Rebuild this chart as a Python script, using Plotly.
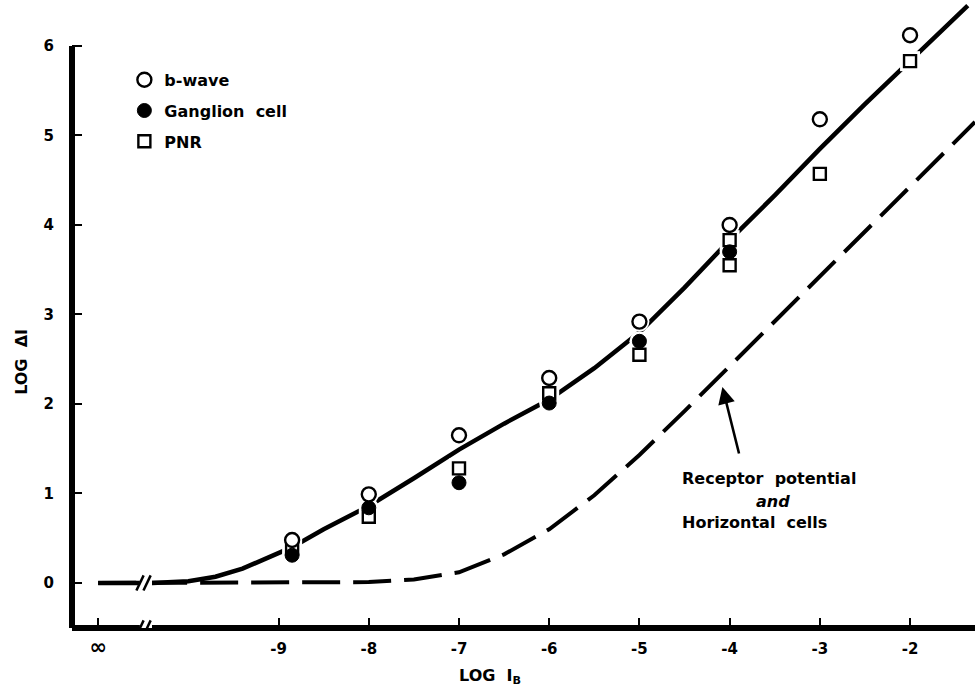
import plotly.graph_objects as go

# ---------------- data ----------------
bwave_x = [-8.85, -8, -7, -6, -5, -4, -3, -2]
bwave_y = [0.48, 0.99, 1.65, 2.29, 2.92, 4.00, 5.18, 6.12]

gang_x = [-8.85, -8, -7, -6, -5, -4]
gang_y = [0.31, 0.84, 1.12, 2.01, 2.70, 3.70]

pnr_x = [-8.85, -8, -7, -6, -5, -4, -4, -3, -2]
pnr_y = [0.39, 0.74, 1.28, 2.12, 2.55, 3.83, 3.55, 4.57, 5.83]

# solid fitted curve (ganglion / b-wave / PNR)
solid_x = [-11.0, -10.4, -10.0, -9.7, -9.4, -9.1, -8.85, -8.5, -8.0, -7.5, -7.0,
           -6.5, -6.0, -5.5, -5.0, -4.5, -4.0, -3.5, -3.0, -2.5, -2.0, -1.36]
solid_y = [0.0, 0.0, 0.02, 0.07, 0.16, 0.29, 0.40, 0.60, 0.86, 1.17, 1.49,
           1.78, 2.05, 2.40, 2.80, 3.30, 3.83, 4.33, 4.85, 5.35, 5.84, 6.45]

# dashed curve (receptor potential and horizontal cells)
dash_x = [-11.0, -10.5, -10.0, -9.5, -9.0, -8.5, -8.0, -7.5, -7.0, -6.5, -6.0,
          -5.5, -5.0, -4.5, -4.0, -3.5, -3.0, -2.5, -2.0, -1.28]
dash_y = [0.0, 0.0, 0.0, 0.0, 0.0, 0.0, 0.01, 0.04, 0.12, 0.32, 0.60,
          0.98, 1.43, 1.92, 2.42, 2.92, 3.42, 3.92, 4.42, 5.15]

x_tickvals = [-11, -9, -8, -7, -6, -5, -4, -3, -2]
x_ticktext = ["<span style='font-size:21px'>∞</span>", "-9", "-8", "-7", "-6", "-5", "-4", "-3", "-2"]
y_tickvals = [0, 1, 2, 3, 4, 5, 6]

X_RANGE = [-11.29, -1.28]
Y_RANGE = [-0.503, 6.513]
BREAK_X = -10.463

FONT = "DejaVu Sans"
BLACK = "black"

fig = go.Figure()

fig.add_trace(go.Scatter(x=dash_x, y=dash_y, mode="lines",
                         line=dict(color=BLACK, width=4, dash="38px,13px"),
                         showlegend=False, hoverinfo="skip"))
fig.add_trace(go.Scatter(x=solid_x, y=solid_y, mode="lines",
                         line=dict(color=BLACK, width=4.5),
                         showlegend=False, hoverinfo="skip"))

# white halos so the curve is interrupted around the symbols
for xs, ys, sym in [(bwave_x, bwave_y, "circle"), (gang_x, gang_y, "circle"),
                    (pnr_x, pnr_y, "square")]:
    fig.add_trace(go.Scatter(x=xs, y=ys, mode="markers",
                             marker=dict(symbol=sym, size=20, color="white", line=dict(width=0)),
                             showlegend=False, hoverinfo="skip"))

fig.add_trace(go.Scatter(x=pnr_x, y=pnr_y, mode="markers", name="PNR",
                         legendrank=3, legendgroup="c",
                         marker=dict(symbol="square", size=12, color="white",
                                     line=dict(color=BLACK, width=2.4))))
fig.add_trace(go.Scatter(x=gang_x, y=gang_y, mode="markers", name="Ganglion  cell",
                         legendrank=2, legendgroup="b",
                         marker=dict(symbol="circle", size=14, color=BLACK,
                                     line=dict(color=BLACK, width=1))))
fig.add_trace(go.Scatter(x=bwave_x, y=bwave_y, mode="markers", name="b-wave",
                         legendrank=1, legendgroup="a",
                         marker=dict(symbol="circle", size=14, color="white",
                                     line=dict(color=BLACK, width=2.4))))

shapes = []
# spines
shapes.append(dict(type="line", xref="paper", yref="paper", x0=0, x1=1, y0=0, y1=0,
                   line=dict(color=BLACK, width=6), layer="above"))
shapes.append(dict(type="line", xref="paper", yref="y", x0=0, x1=0, y0=Y_RANGE[0] - 0.035, y1=6,
                   line=dict(color=BLACK, width=6), layer="above"))
# axis breaks on the zero line and the x axis
for y0, hh in [(0.0, 0.06), (Y_RANGE[0], 0.06)]:
    shapes.append(dict(type="rect", xref="x", yref="y", x0=BREAK_X - 0.075, x1=BREAK_X + 0.06,
                       y0=y0 - hh, y1=y0 + hh, fillcolor="white", line=dict(width=0), layer="above"))
    for dx in (-0.078, 0.0):
        shapes.append(dict(type="line", xref="x", yref="y",
                           x0=BREAK_X + dx - 0.035, x1=BREAK_X + dx + 0.045,
                           y0=y0 - 0.085, y1=y0 + 0.085,
                           line=dict(color=BLACK, width=2.5), layer="above"))

annotations = [
    dict(text="<b>LOG  ΔI</b>", xref="paper", yref="y", x=-0.0554, y=2.47, textangle=-90,
         xanchor="center", yanchor="middle",
         showarrow=False, font=dict(family=FONT, size=16, color=BLACK)),
    dict(text="<b>LOG  I<sub>B</sub></b>", xref="x", yref="paper", x=-6.66, y=-0.078,
         xanchor="center", yanchor="middle",
         showarrow=False, font=dict(family=FONT, size=16, color=BLACK)),
    dict(text="<b>Receptor  potential</b>", xref="x", yref="y", x=-4.55, y=1.17,
         xanchor="left", yanchor="middle", showarrow=False,
         font=dict(family=FONT, size=16, color=BLACK)),
    dict(text="<b><i>and</i></b>", xref="x", yref="y", x=-3.52, y=0.91,
         xanchor="center", yanchor="middle", showarrow=False,
         font=dict(family=FONT, size=16, color=BLACK)),
    dict(text="<b>Horizontal  cells</b>", xref="x", yref="y", x=-4.55, y=0.68,
         xanchor="left", yanchor="middle", showarrow=False,
         font=dict(family=FONT, size=16, color=BLACK)),
    dict(text="", xref="x", yref="y", x=-4.08, y=2.19, ax=17, ay=68,
         showarrow=True, arrowhead=2, arrowsize=1.3, arrowwidth=2.6, arrowcolor=BLACK),
]

fig.update_layout(
    width=975, height=693,
    margin=dict(l=72, r=0, t=0, b=65),
    paper_bgcolor="white", plot_bgcolor="white",
    shapes=shapes, annotations=annotations,
    showlegend=True,
    legend=dict(x=0.058, y=0.9, xanchor="left", yanchor="top",
                bgcolor="rgba(0,0,0,0)", borderwidth=0, tracegroupgap=7,
                font=dict(family=FONT, size=16, color=BLACK, weight="bold"),
                itemwidth=30),
    xaxis=dict(range=X_RANGE, showgrid=False, zeroline=False, showline=False,
               tickmode="array", tickvals=x_tickvals, ticktext=x_ticktext,
               ticks="inside", ticklen=10, tickwidth=2, tickcolor=BLACK,
               ticklabelstandoff=10,
               tickfont=dict(family=FONT, size=15, color=BLACK, weight="bold")),
    yaxis=dict(range=Y_RANGE, showgrid=False, zeroline=False, showline=False,
               tickmode="array", tickvals=y_tickvals,
               ticks="inside", ticklen=10, tickwidth=2, tickcolor=BLACK,
               ticklabelstandoff=17,
               tickfont=dict(family=FONT, size=15, color=BLACK, weight="bold")),
)

fig.write_html("out.html")
